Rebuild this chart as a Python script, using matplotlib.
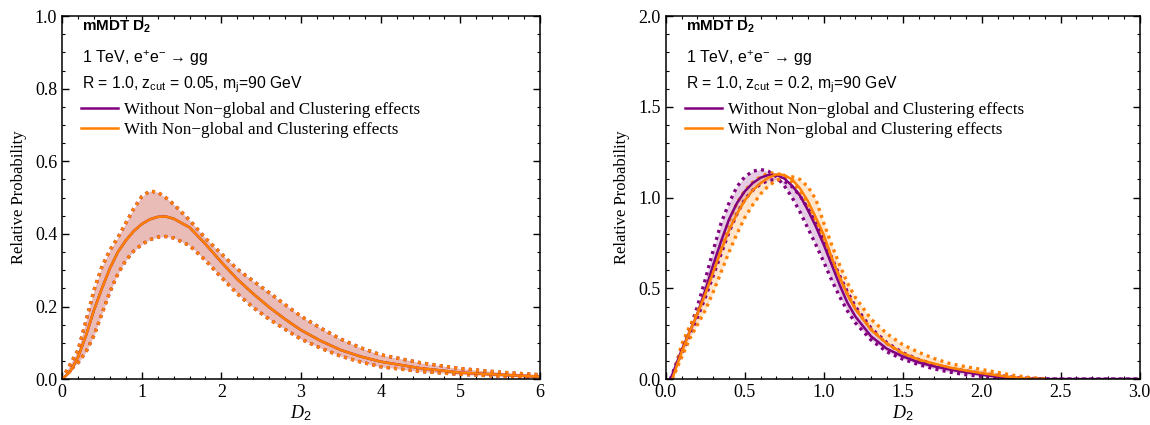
import matplotlib
matplotlib.use("Agg")
import matplotlib.pyplot as plt
from matplotlib.ticker import MultipleLocator

plt.rcParams['font.family'] = ['Liberation Serif', 'DejaVu Serif']
plt.rcParams['mathtext.fontset'] = 'custom'
plt.rcParams['mathtext.rm'] = 'Liberation Sans'
plt.rcParams['mathtext.it'] = 'Liberation Serif:italic'
plt.rcParams['mathtext.bf'] = 'Liberation Sans:bold'

# left panel: z_cut = 0.05 (with / without effects overlap)
left_x = [0, 0.1, 0.2, 0.3, 0.4, 0.5, 0.6, 0.7, 0.8, 0.9, 1.0, 1.1, 1.2, 1.3, 1.4,
          1.6, 1.8, 2.0, 2.2, 2.4, 2.6, 2.8, 3.0, 3.25, 3.5, 3.75, 4.0, 4.5, 5.0, 5.5, 6.0]
left_central = [0, 0.02, 0.06, 0.12, 0.19, 0.25, 0.305, 0.35, 0.382, 0.408, 0.427, 0.44, 0.447, 0.448, 0.442,
                0.418, 0.372, 0.322, 0.275, 0.235, 0.198, 0.165, 0.135, 0.105, 0.08, 0.062, 0.048, 0.03, 0.018, 0.012, 0.007]
left_upper = [0, 0.04, 0.08, 0.16, 0.245, 0.31, 0.355, 0.39, 0.43, 0.47, 0.503, 0.518, 0.515, 0.50, 0.482,
              0.438, 0.388, 0.345, 0.303, 0.27, 0.238, 0.205, 0.173, 0.14, 0.11, 0.086, 0.067, 0.045, 0.029, 0.019, 0.012]
left_lower = [0, 0.025, 0.045, 0.075, 0.12, 0.18, 0.24, 0.29, 0.327, 0.353, 0.371, 0.384, 0.391, 0.393, 0.389,
              0.368, 0.327, 0.28, 0.235, 0.197, 0.165, 0.137, 0.11, 0.085, 0.063, 0.047, 0.034, 0.021, 0.013, 0.008, 0.004]

# right panel: z_cut = 0.2
wo_x = [0.03, 0.1, 0.15, 0.2, 0.25, 0.3, 0.35, 0.4, 0.45, 0.5, 0.55, 0.6, 0.65, 0.7, 0.75, 0.8, 0.85, 0.9, 0.95,
        1.0, 1.05, 1.1, 1.15, 1.2, 1.3, 1.4, 1.5, 1.6, 1.7, 1.8, 1.9, 2.0, 2.1, 2.2, 2.3, 2.4, 2.5, 3.0]
wo_central = [0, 0.16, 0.26, 0.36, 0.49, 0.63, 0.76, 0.88, 0.97, 1.035, 1.08, 1.11, 1.125, 1.125, 1.105, 1.065, 1.01, 0.93, 0.84,
              0.74, 0.63, 0.52, 0.42, 0.345, 0.235, 0.167, 0.125, 0.092, 0.07, 0.052, 0.038, 0.024, 0.013, 0.006, 0.002, 0, 0, 0]
wo_band_a = [0, 0.17, 0.27, 0.40, 0.55, 0.71, 0.86, 0.97, 1.06, 1.115, 1.145, 1.155, 1.145, 1.115, 1.065, 1.0, 0.92, 0.83, 0.74,
             0.645, 0.545, 0.455, 0.375, 0.31, 0.215, 0.15, 0.11, 0.08, 0.056, 0.038, 0.024, 0.015, 0.007, 0.003, 0.001, 0, 0, 0]
wo_band_b = [0, 0.14, 0.24, 0.34, 0.45, 0.57, 0.69, 0.81, 0.91, 0.99, 1.04, 1.075, 1.095, 1.10, 1.09, 1.06, 1.01, 0.94, 0.86,
             0.77, 0.67, 0.57, 0.48, 0.40, 0.28, 0.20, 0.145, 0.108, 0.08, 0.06, 0.045, 0.032, 0.02, 0.01, 0.004, 0.001, 0, 0]

w_x = [0.04, 0.1, 0.15, 0.2, 0.25, 0.3, 0.35, 0.4, 0.45, 0.5, 0.55, 0.6, 0.65, 0.7, 0.75, 0.8, 0.85, 0.9, 0.95,
       1.0, 1.05, 1.1, 1.15, 1.2, 1.3, 1.4, 1.5, 1.6, 1.7, 1.8, 1.9, 2.0, 2.1, 2.2, 2.3, 2.4]
w_central = [0, 0.15, 0.26, 0.36, 0.47, 0.59, 0.71, 0.82, 0.91, 0.985, 1.04, 1.08, 1.11, 1.128, 1.125, 1.10, 1.05, 0.98, 0.89,
             0.795, 0.67, 0.56, 0.465, 0.385, 0.27, 0.195, 0.143, 0.108, 0.085, 0.063, 0.047, 0.033, 0.02, 0.009, 0.003, 0]
w_band_a = [0, 0.19, 0.29, 0.37, 0.48, 0.61, 0.75, 0.87, 0.97, 1.04, 1.085, 1.115, 1.135, 1.135, 1.12, 1.085, 1.025, 0.945, 0.855,
            0.76, 0.66, 0.56, 0.47, 0.39, 0.275, 0.195, 0.14, 0.105, 0.08, 0.06, 0.044, 0.03, 0.018, 0.008, 0.003, 0]
w_band_b = [0, 0.12, 0.22, 0.30, 0.38, 0.48, 0.59, 0.70, 0.80, 0.89, 0.96, 1.02, 1.065, 1.095, 1.11, 1.115, 1.10, 1.06, 0.99,
            0.86, 0.74, 0.63, 0.53, 0.45, 0.33, 0.25, 0.19, 0.148, 0.113, 0.085, 0.068, 0.053, 0.037, 0.021, 0.009, 0.002]

purple = (0.5, 0.0, 0.5)
orange = (1.0, 0.5, 0.0)
dots = (0, (0.9, 1.3))

fig = plt.figure(figsize=(11.5, 4.25), dpi=100)
ax1 = fig.add_axes([0.054, 0.108, 0.4156, 0.854])
ax2 = fig.add_axes([0.579, 0.108, 0.412, 0.854])


def draw(ax, x0, c0, a0, b0, x1, c1, a1, b1):
    ax.fill_between(x0, a0, b0, color=purple, alpha=0.2, lw=0)
    ax.fill_between(x1, a1, b1, color=orange, alpha=0.2, lw=0)
    ax.plot(x0, a0, color=purple, lw=2.4, ls=dots)
    ax.plot(x0, b0, color=purple, lw=2.4, ls=dots)
    ax.plot(x1, a1, color=orange, lw=2.4, ls=dots)
    ax.plot(x1, b1, color=orange, lw=2.4, ls=dots)
    ax.plot(x0, c0, color=purple, lw=1.8, label="Without Non\u2212global and Clustering effects")
    ax.plot(x1, c1, color=orange, lw=1.8, label="With Non\u2212global and Clustering effects")


draw(ax1, left_x, left_central, left_upper, left_lower, left_x, left_central, left_upper, left_lower)
draw(ax2, wo_x, wo_central, wo_band_a, wo_band_b, w_x, w_central, w_band_a, w_band_b)

ax1.set_xlim(0, 6)
ax1.set_ylim(0, 1.0)
ax1.xaxis.set_major_locator(MultipleLocator(1))
ax1.xaxis.set_minor_locator(MultipleLocator(0.2))
ax1.yaxis.set_major_locator(MultipleLocator(0.2))
ax1.yaxis.set_minor_locator(MultipleLocator(0.05))
ax1.set_yticklabels([f"{v:.1f}" for v in ax1.get_yticks()])

ax2.set_xlim(0, 3.0)
ax2.set_ylim(0, 2.0)
ax2.xaxis.set_major_locator(MultipleLocator(0.5))
ax2.xaxis.set_minor_locator(MultipleLocator(0.1))
ax2.yaxis.set_major_locator(MultipleLocator(0.5))
ax2.yaxis.set_minor_locator(MultipleLocator(0.1))
ax2.set_xticklabels([f"{v:.1f}" for v in ax2.get_xticks()])
ax2.set_yticklabels([f"{v:.1f}" for v in ax2.get_yticks()])

zcuts = ["0.05", "0.2"]
for ax, zc in zip([ax1, ax2], zcuts):
    ax.tick_params(which='both', direction='in', top=True, right=True, labelsize=13)
    ax.tick_params(which='major', length=5, width=1)
    ax.tick_params(which='minor', length=2.5, width=0.8)
    for s in ax.spines.values():
        s.set_linewidth(1.1)
    ax.set_xlabel(r"$\mathit{D_2}$", fontsize=13, labelpad=2)
    ax.set_ylabel("Relative Probability", fontsize=12, labelpad=6)
    ax.text(0.042, 0.97, r"mMDT D$_\mathbf{2}$", transform=ax.transAxes, fontsize=11,
            family='Liberation Sans', weight='bold', va='center')
    ax.text(0.042, 0.885, "1 TeV, e$^{+}$e$^{-}$ \u2192 gg", transform=ax.transAxes,
            fontsize=11.4, family=['Liberation Sans', 'DejaVu Sans'], va='center')
    ax.text(0.042, 0.81, r"R = 1.0, z$_{\mathrm{cut}}$ = " + zc + r", m$_{\mathrm{j}}$=90 GeV",
            transform=ax.transAxes, fontsize=11.3, family='Liberation Sans', va='center')
    ax.legend(loc='upper left', bbox_to_anchor=(0.025, 0.782), frameon=False, fontsize=12.3,
              handlelength=2.2, handletextpad=0.35, labelspacing=0.25, borderaxespad=0)

fig.savefig("out.png", dpi=100)
